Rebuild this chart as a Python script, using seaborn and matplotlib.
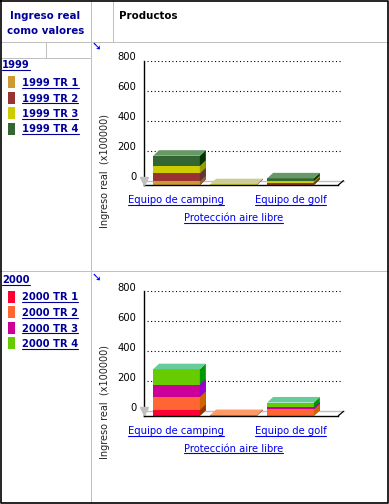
#------------------------LIBRARIES------------------------------------------------
import numpy as np
import pandas as pd
import matplotlib
matplotlib.use('Agg')
import matplotlib.pyplot as plt
import seaborn as sns
from matplotlib.patches import Polygon, Rectangle
from matplotlib.lines import Line2D
from matplotlib.transforms import ScaledTranslation, IdentityTransform
#---------------------------------------------------------------------------------

#------------------------DATA-----------------------------------------------------
productos = ['Equipo de camping', 'Protección aire libre', 'Equipo de golf']
trimestres = ['TR 1', 'TR 2', 'TR 3', 'TR 4']
anios = ['1999', '2000']

# Ingreso real (x100000) per producto, one list per trimestre
ingreso_1999_tr1 = [24, 0, 0]
ingreso_1999_tr2 = [53, 0, 15]
ingreso_1999_tr3 = [51, 5, 11]
ingreso_1999_tr4 = [67, 0, 18]

ingreso_2000_tr1 = [38, 0, 0]
ingreso_2000_tr2 = [87, 4, 42]
ingreso_2000_tr3 = [82, 0, 13]
ingreso_2000_tr4 = [103, 0, 33]

y_ticks = [0, 200, 400, 600, 800]
eje_y = 'Ingreso real  (x100000)'
cab_medidas = ['Ingreso real', 'como valores']
cab_columnas = 'Productos'
#---------------------------------------------------------------------------------

#------------------------STYLE----------------------------------------------------
caras_1999 = ['#CC9933', '#993333', '#CCCC00', '#336633']
tapas_1999 = ['#DDBB77', '#CC6666', '#CCCC99', '#669966']
lados_1999 = ['#996633', '#663333', '#999900', '#003300']
caras_2000 = ['#FF0033', '#FF6633', '#CC0099', '#66CC00']
tapas_2000 = ['#FF6680', '#FF9966', '#FF66CC', '#66CC99']
lados_2000 = ['#993300', '#CC6600', '#9900CC', '#009900']

sns.set_style('white')
plt.rcParams['font.family'] = ['DejaVu Sans']

W, H = 389, 504
gris = '#C0C0C0'
azul = '#0000EE'
marino = '#000099'
ANCHO = 0.82                 # bar width (categories)
DX, DY = 0.105, 37           # bar depth
FDX, FDY = 0.09, 29          # floor depth
XL = (-0.57, 2.93)
PISO_DER = 2.84

fig = plt.figure(figsize=(W / 100, H / 100), dpi=100)
fig.patch.set_facecolor('white')

# background axes in pixel units for the table frame
bg = fig.add_axes([0, 0, 1, 1], zorder=-1)
bg.set_xlim(0, W)
bg.set_ylim(H, 0)
bg.axis('off')

lw = 0.72
for xs, ys in [([0, W], [42, 42]), ([0, W], [271, 271]), ([91, 91], [0, H]),
               ([113, 113], [0, 42]), ([0, 91], [58, 58]), ([46, 46], [42, 58])]:
    bg.plot(xs, ys, color=gris, lw=lw)
bg.plot([0.5, 0.5, W - 1, W - 1, 0.5], [0.5, H - 1, H - 1, 0.5, 0.5], color='black', lw=1.2)

bg.text(45.5, 16, cab_medidas[0], ha='center', va='center', fontsize=7.4,
        fontweight='bold', color=marino)
bg.text(45.5, 31, cab_medidas[1], ha='center', va='center', fontsize=7.4,
        fontweight='bold', color=marino)
bg.text(119, 16, cab_columnas, ha='left', va='center', fontsize=7.4,
        fontweight='bold', color='black')

subrayados = []

# legend per year
for anio, y0, caras in [('1999', 68.5, caras_1999), ('2000', 283, caras_2000)]:
    t = bg.text(2, y0, anio, ha='left', va='baseline', fontsize=7.2,
                fontweight='bold', color=marino)
    subrayados.append(t)
    for i, tr in enumerate(trimestres):
        yb = y0 + 17.5 + 15.5 * i
        bg.add_patch(Rectangle((8, yb - 10), 7, 12, facecolor=caras[i], edgecolor='none'))
        t = bg.text(22, yb, anio + ' ' + tr, ha='left', va='baseline', fontsize=7.2,
                    fontweight='bold', color=marino)
        subrayados.append(t)


def barras_3d(ax, valores, caras, tapas, lados):
    tabla = pd.DataFrame(np.array(valores).T, index=productos, columns=trimestres)
    acum = tabla.cumsum(axis=1)
    totales = None
    for i in reversed(range(len(trimestres))):
        n0 = len(ax.patches)
        sns.barplot(x=productos, y=acum[trimestres[i]].to_numpy(), order=productos,
                    color=caras[i], saturation=1, width=ANCHO, errorbar=None,
                    linewidth=0, ax=ax, zorder=2)
        nuevas = list(ax.patches)[n0:]
        if totales is None:
            totales = nuevas
        for p in nuevas:
            h = p.get_height()
            if h <= 0:
                continue
            x1 = p.get_x() + p.get_width()
            ax.add_patch(Polygon([(x1, 0), (x1 + DX, DY), (x1 + DX, h + DY), (x1, h)],
                                 facecolor=lados[i], edgecolor='none', zorder=2))
    # top caps
    for j, p in enumerate(totales):
        fila = tabla.iloc[j].to_numpy()
        arriba = np.nonzero(fila > 0)[0]
        if len(arriba) == 0:
            continue
        k = arriba[-1]
        h = acum.iloc[j, -1]
        x0 = p.get_x()
        x1 = x0 + p.get_width()
        ax.add_patch(Polygon([(x0, h), (x1, h), (x1 + DX, h + DY), (x0 + DX, h + DY)],
                             facecolor=tapas[k], edgecolor='none', zorder=2))


def grafico(frente_y, valores, caras, tapas, lados):
    # frente_y: pixel row of the front zero line
    ax = fig.add_axes([144 / W, (H - frente_y) / H, 199.5 / W, 124.3 / H])
    ax.set_facecolor('none')
    barras_3d(ax, valores, caras, tapas, lados)
    ax.set_xlim(*XL)
    ax.set_ylim(0, 829)

    # back wall grid and floor
    ax.plot([XL[0] + FDX * 0.6, PISO_DER + FDX], [FDY, FDY], color=gris, lw=1, zorder=0.5,
            clip_on=False)
    ax.hlines([v + FDY for v in y_ticks[1:]], XL[0] + 0.05, 2.9, colors='black',
              linestyles=(0, (1, 2.2)), lw=0.8, zorder=0.5)
    ax.plot([PISO_DER, PISO_DER + FDX], [0, FDY], color='black', lw=0.9, clip_on=False)
    ax.plot([XL[0]], [FDY], marker='v', color=gris, markersize=6, clip_on=False, zorder=3)

    sns.despine(ax=ax, top=True, right=True)
    ax.spines['bottom'].set_bounds(XL[0], PISO_DER)
    ax.spines['left'].set_linewidth(1)
    ax.spines['bottom'].set_linewidth(1)
    ax.spines['left'].set_color('black')
    ax.spines['bottom'].set_color('black')
    ax.set_yticks(y_ticks)
    ax.tick_params(axis='y', length=3, width=1, color=gris, direction='out',
                   labelleft=False)
    ax.tick_params(axis='x', length=0, labelbottom=False)
    ax.set_xlabel('')
    ax.set_ylabel('')

    off = ScaledTranslation(-0.075, 0.08, fig.dpi_scale_trans)
    for v in y_ticks:
        ax.text(0, v, str(v), transform=ax.get_yaxis_transform() + off,
                ha='right', va='center', fontsize=7.2, color='black')

    # category labels (staggered)
    for j, prod in enumerate(productos):
        baja = 0.36 if j == 1 else 0.183
        t = ax.text(j, 0, prod, transform=ax.get_xaxis_transform() +
                    ScaledTranslation(0, -baja, fig.dpi_scale_trans),
                    ha='center', va='baseline', fontsize=7.2, color=azul)
        subrayados.append(t)

    fig.text(105 / W, 1 - (frente_y - 14) / H, eje_y, rotation=90, ha='center',
             va='center', fontsize=7.0, color='#222222')

    # little blue arrow icon
    fig.text(96 / W, 1 - (frente_y - 139) / H, '➘', ha='center', va='center',
             fontsize=8.5, fontweight='bold', color='#0000FF')
    return ax


ax1 = grafico(185, [ingreso_1999_tr1, ingreso_1999_tr2, ingreso_1999_tr3, ingreso_1999_tr4],
              caras_1999, tapas_1999, lados_1999)
ax2 = grafico(415.7, [ingreso_2000_tr1, ingreso_2000_tr2, ingreso_2000_tr3, ingreso_2000_tr4],
              caras_2000, tapas_2000, lados_2000)

# underline the link-like texts
fig.canvas.draw()
for t in subrayados:
    bb = t.get_window_extent()
    xb, yb = t.get_transform().transform(t.get_position())
    fig.add_artist(Line2D([bb.x0, bb.x1], [yb - 1.5, yb - 1.5], color=t.get_color(),
                          lw=0.8, transform=IdentityTransform()))

fig.savefig('out.png', dpi=100)
